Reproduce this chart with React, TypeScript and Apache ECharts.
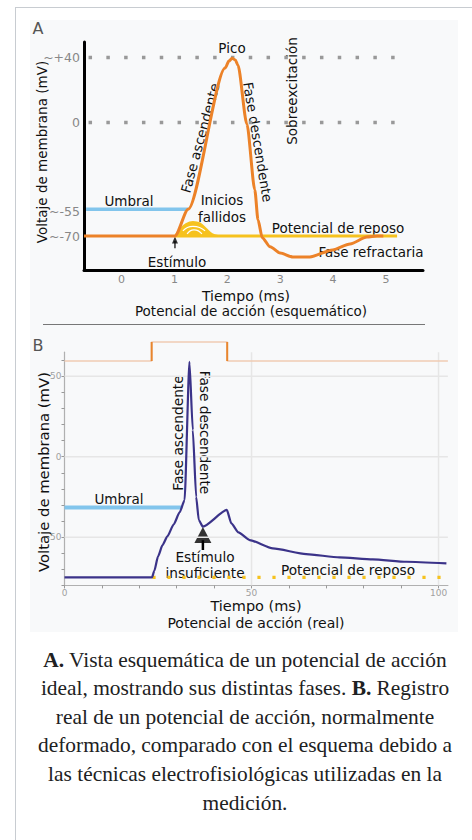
import React, { useEffect, useRef } from 'react';
import * as echarts from 'echarts';

// ---------- Panel A (schematic) ----------
const aTicksX = [0, 1, 2, 3, 4, 5];
const aTicksY = [40, 0, -55, -70];
const aTickYLabels = ['~+40', '0', '~-55', '~-70'];
const aActionPotential: [number, number][] = [
  [-0.71, -70], [1.01, -70], [1.26, -53.5], [1.96, 33.5], [2.03, 37.8], [2.09, 39.5],
  [2.15, 38.5], [2.2, 35.4], [2.37, -1], [2.52, -41.6], [2.58, -60], [2.66, -71],
  [2.81, -76.6], [3.0, -80.5], [3.24, -82.9], [3.56, -82.9], [3.99, -78.6],
  [4.32, -74.9], [4.64, -70.6], [4.83, -70], [4.95, -70],
];
const aResting: [number, number][] = [[1.01, -70], [5.21, -70]];
const aFailedBump: [number, number][] = [
  [1.01, -70], [1.11, -65.7], [1.22, -62.6], [1.35, -61.3], [1.48, -62.2],
  [1.6, -65.7], [1.71, -68.8], [1.82, -70],
];
const aFailedArc1: [number, number][] = [[1.16, -66.8], [1.35, -64.0], [1.58, -66.8]];
const aFailedArc2: [number, number][] = [[1.24, -68.7], [1.37, -66.2], [1.52, -68.7]];
const aThreshold: [number, number][] = [[-0.67, -53.5], [1.26, -53.5]];
const aPeakRef: [number, number][] = [[-0.624, 40], [5.21, 40]];
const aZeroRef: [number, number][] = [[-0.624, 0], [5.21, 0]];
const aStimStem: [number, number][] = [[1.01, -77.5], [1.01, -73]];
const aStimHead: [number, number][] = [[1.01, -72.4]];

// ---------- Panel B (real recording) ----------
const bTicksX = [0, 10, 20, 30, 40, 50, 60, 70, 80, 90, 100];
const bLabelsX = [0, 50, 100];
const bTicksY = [-80, -70, -60, -50, -40, -30, -20, -10, 0, 10, 20, 30, 40, 50, 60];
const bLabelsY = [-50, 0, 50];
const bGridY = [50, 0, -50];
const bGridX = [50, 100];
const bTrace: [number, number][] = [
  [0, -75], [23.4, -75], [24.0, -71], [25.0, -62], [26.2, -55], [27.5, -49.5],
  [29.2, -42], [30.8, -34.5], [32.1, -27], [33.4, 59], [34.3, 16.6], [35.2, -24.9],
  [35.9, -39.4], [37.0, -43.5], [43.4, -33.1], [44.6, -41.4], [46.5, -47],
  [49.5, -51.8], [55.7, -57.0], [64.6, -60.5], [73.5, -62.6], [82.4, -63.8],
  [91.4, -65.3], [102.1, -66.3],
];
const bThreshold: [number, number][] = [[0, -31.5], [31.2, -31.5]];
const bRest: [number, number][] = [[23.5, -75], [104.3, -75]];
const bStimArrowStem: [number, number][] = [[37.0, -58], [37.0, -52]];
const bStimArrowHead: [number, number][] = [[37.0, -48.7]];
const bStimTrace: [number, number][] = [[0, 0], [23.3, 0], [23.3, 1], [43.5, 1], [43.5, 0], [102.5, 0]];
const bStimOn: [number, number][] = [[23.3, 0], [23.3, 1]];
const bStimOff: [number, number][] = [[43.5, 1], [43.5, 0]];

const FONT = 'DejaVu Sans';
const ORANGE = '#ec8228';
const YELLOW = '#f6c21e';
const BLUE = '#82c5ec';
const PURPLE = '#3b3389';

const line = (data: [number, number][], color: string, width: number, extra: any = {}) => ({
  type: 'line',
  data,
  symbol: 'none',
  silent: true,
  ...extra,
  lineStyle: { color, width, ...(extra.lineStyle || {}) },
});

const txt = (text: string, x: number, y: number, size = 13.5, rotation = 0, fill = '#111') => ({
  type: 'text',
  x,
  y,
  rotation,
  silent: true,
  style: {
    text,
    fill,
    fontSize: size,
    fontFamily: FONT,
    textAlign: 'center',
    textVerticalAlign: 'middle',
    align: 'center',
    verticalAlign: 'middle',
  },
});

export default function App() {
  const ref = useRef<HTMLDivElement>(null);
  useEffect(() => {
    const chart = echarts.init(ref.current!, null, { renderer: 'svg' });
    const grayAxisLabel = { color: '#a0a0a0', fontSize: 9, fontFamily: FONT };
    const option: any = {
      animation: false,
      grid: [
        { left: 84, top: 42, width: 339, height: 228 },
        { left: 64.5, top: 352.2, width: 383.4, height: 233.2 },
        { left: 64.5, top: 342, width: 383.4, height: 19 },
      ],
      xAxis: [
        {
          type: 'value', gridIndex: 0, min: -0.71, max: 5.7,
          axisLine: { show: true, onZero: false, lineStyle: { color: '#000', width: 3 } },
          axisTick: { show: false }, splitLine: { show: false },
          axisLabel: { customValues: aTicksX, color: '#888', fontSize: 11, fontFamily: FONT, margin: 4 },
        },
        {
          type: 'value', gridIndex: 1, min: 0, max: 102.5,
          axisLine: { show: true, onZero: false, lineStyle: { color: '#b0b0b0', width: 1.2 } },
          axisTick: { show: true, customValues: bTicksX, length: 3, lineStyle: { color: '#999' } },
          splitLine: { show: false },
          axisLabel: { customValues: bLabelsX, margin: 3, ...grayAxisLabel },
        },
        { type: 'value', gridIndex: 2, min: 0, max: 102.5, show: false },
      ],
      yAxis: [
        {
          type: 'value', gridIndex: 0, min: -90.93, max: 49.55,
          axisLine: { show: true, onZero: false, lineStyle: { color: '#000', width: 3 } },
          axisTick: { show: false }, splitLine: { show: false },
          axisLabel: {
            customValues: aTicksY, color: '#888', fontSize: 12.5, fontFamily: FONT, margin: 4,
            formatter: (v: number) => {
              const i = aTicksY.indexOf(v);
              return i >= 0 ? aTickYLabels[i] : '';
            },
          },
        },
        {
          type: 'value', gridIndex: 1, min: -80, max: 65,
          axisLine: { show: true, onZero: false, lineStyle: { color: '#b0b0b0', width: 1.2 } },
          axisTick: { show: true, customValues: bTicksY, length: 3, lineStyle: { color: '#999' } },
          splitLine: { show: false },
          axisLabel: { customValues: bLabelsY, margin: 3, ...grayAxisLabel },
        },
        { type: 'value', gridIndex: 2, min: 0, max: 1, show: false },
      ],
      series: [
        // Panel A
        line(aPeakRef, '#999', 3.5, { lineStyle: { type: [3.5, 14.3] } }),
        line(aZeroRef, '#999', 3.5, { lineStyle: { type: [3.5, 14.3] } }),
        line(aThreshold, BLUE, 3.5),
        line(aResting, YELLOW, 3),
        line(aFailedBump, YELLOW, 2, { smooth: 0.4, areaStyle: { color: YELLOW, opacity: 1, origin: -70 } }),
        line(aFailedArc1, '#ffffff', 1.2, { smooth: 0.6 }),
        line(aFailedArc2, '#ffffff', 1.2, { smooth: 0.6 }),
        line(aActionPotential, ORANGE, 3, { smooth: 0.25, smoothMonotone: 'x' }),
        line(aStimStem, '#000', 1.2),
        {
          type: 'scatter', data: aStimHead, symbol: 'triangle', symbolSize: [6, 7],
          itemStyle: { color: '#000' }, silent: true,
        },
        // Panel B grid lines
        ...bGridY.map((v) => line([[0, v], [102.5, v]], '#e6e6e6', 1.5, { xAxisIndex: 1, yAxisIndex: 1 })),
        ...bGridX.map((v) => line([[v, -80], [v, 65]], '#e6e6e6', 1.5, { xAxisIndex: 1, yAxisIndex: 1 })),
        line(bThreshold, BLUE, 4, { xAxisIndex: 1, yAxisIndex: 1 }),
        line(bRest, YELLOW, 3.2, { xAxisIndex: 1, yAxisIndex: 1, clip: false, lineStyle: { type: [3.2, 11.8] } }),
        line(bTrace, PURPLE, 2.2, { xAxisIndex: 1, yAxisIndex: 1, smooth: 0.2, smoothMonotone: 'x' }),
        line(bStimArrowStem, '#000', 2.5, { xAxisIndex: 1, yAxisIndex: 1 }),
        {
          type: 'scatter', xAxisIndex: 1, yAxisIndex: 1, data: bStimArrowHead, symbol: 'triangle',
          symbolSize: [17, 16], itemStyle: { color: '#000' }, silent: true,
        },
        // stimulus trace
        line(bStimTrace, '#efcbb4', 1.5, { xAxisIndex: 2, yAxisIndex: 2, clip: false }),
        line(bStimOn, '#e8862e', 2, { xAxisIndex: 2, yAxisIndex: 2, clip: false }),
        line(bStimOff, '#e8862e', 2, { xAxisIndex: 2, yAxisIndex: 2, clip: false }),
      ],
      graphic: [
        // Panel A texts
        txt('A', 38, 28, 16, 0, '#555'),
        txt('Voltaje de membrana (mV)', 42, 152, 13.5, Math.PI / 2),
        txt('Pico', 232, 48),
        txt('Fase ascendente', 200, 138, 13.5, (74.7 * Math.PI) / 180),
        txt('Fase descendente', 258, 142, 13.5, (-80.5 * Math.PI) / 180),
        txt('Sobreexcitación', 292, 91, 13.5, Math.PI / 2),
        txt('Umbral', 129, 201),
        txt('Inicios', 222, 200),
        txt('fallidos', 222, 217),
        txt('Potencial de reposo', 338, 228),
        txt('Fase refractaria', 371, 252),
        txt('Estímulo', 177, 262),
        txt('Tiempo (ms)', 246, 295.5, 14),
        txt('Potencial de acción (esquemático)', 251, 311, 13.5),
        {
          type: 'line', silent: true,
          shape: { x1: 43, y1: 324.5, x2: 425, y2: 324.5 },
          style: { stroke: '#777', lineWidth: 1 },
        },
        // Panel B texts
        txt('B', 38, 345, 16, 0, '#555'),
        txt('Voltaje de membrana (mV)', 43, 472, 14.8, Math.PI / 2),
        txt('Fase ascendente', 178.3, 433, 13.8, Math.PI / 2),
        txt('Fase descendente', 205, 432.5, 13.7, -Math.PI / 2),
        txt('Umbral', 119, 499),
        txt('Estímulo', 205, 557, 13.7),
        txt('insuficiente', 205, 573, 13.7),
        txt('Potencial de reposo', 348, 570, 13.7),
        txt('Tiempo (ms)', 256, 605.5, 14.5),
        txt('Potencial de acción (real)', 256, 622.5, 14),
      ],
    };
    chart.setOption(option);
    return () => chart.dispose();
  }, []);

  return (
    <div style={{ position: 'absolute', left: 0, top: 0, width: 472, height: 840, overflow: 'hidden', background: '#fff' }}>
      <div style={{ position: 'absolute', left: 15, top: 7, width: 520, height: 900, border: '1px solid #c8ccd1', boxSizing: 'border-box' }} />
      <div style={{ position: 'absolute', left: 30, top: 20, width: 428, height: 612, background: '#f8f9fa' }} />
      <div ref={ref} style={{ position: 'absolute', left: 0, top: 0, width: 472, height: 640 }} />
      <div
        style={{
          position: 'absolute', left: 15, top: 645.7, width: 460, textAlign: 'center',
          fontFamily: '"Liberation Serif", "Times New Roman", serif', fontSize: 21.4, lineHeight: '28.6px',
          color: '#202122', whiteSpace: 'nowrap',
        }}
      >
        <b>A.</b> Vista esquemática de un potencial de acción<br />
        ideal, mostrando sus distintas fases. <b>B.</b> Registro<br />
        real de un potencial de acción, normalmente<br />
        deformado, comparado con el esquema debido a<br />
        las técnicas electrofisiológicas utilizadas en la<br />
        medición.
      </div>
    </div>
  );
}
